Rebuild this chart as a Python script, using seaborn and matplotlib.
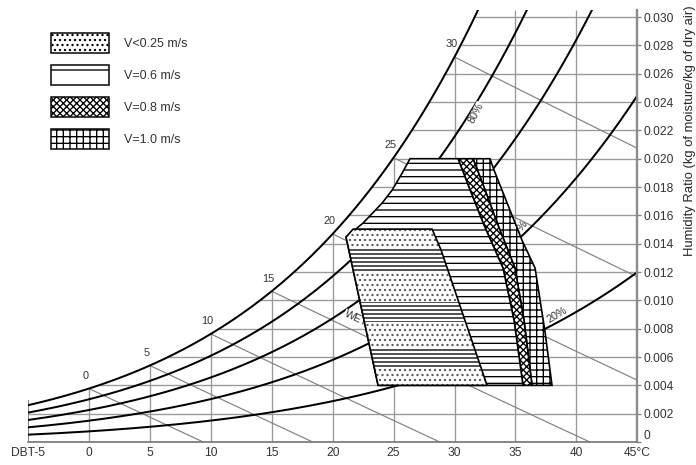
import numpy as np
import pandas as pd
import seaborn as sns
import matplotlib
matplotlib.use("Agg")
from matplotlib import pyplot as plt
from matplotlib.patches import Polygon, Patch

# axes of the chart
dbt_ticks = [-5, 0, 5, 10, 15, 20, 25, 30, 35, 40, 45]
dbt_labels = ["DBT-5", "0", "5", "10", "15", "20", "25", "30", "35", "40", "45°C"]
w_ticks = [0, 0.002, 0.004, 0.006, 0.008, 0.010, 0.012, 0.014, 0.016,
           0.018, 0.020, 0.022, 0.024, 0.026, 0.028, 0.030]
w_labels = ["0", "0.002", "0.004", "0.006", "0.008", "0.010", "0.012", "0.014", "0.016",
            "0.018", "0.020", "0.022", "0.024", "0.026", "0.028", "0.030"]
rh_levels = [100, 80, 60, 40, 20]
wb_temps = [0, 5, 10, 15, 20, 25, 30]

# comfort zones (dry bulb degC, humidity ratio)
still_t = [23.73, 21.10, 21.68, 28.16, 28.90, 32.67]
still_w = [0.004, 0.01447, 0.01503, 0.01503, 0.01355, 0.004]
still_band_lo = [0.0121, 0.0085, 0.0053]
still_band_hi = [0.0136, 0.0099, 0.0067]

v06_left_t = [23.73, 21.10, 22.50, 24.06, 24.88, 25.70, 26.35]
v06_left_w = [0.004, 0.01447, 0.01546, 0.01687, 0.01778, 0.01898, 0.020]
v06_right_t = [30.29, 31.28, 32.42, 33.98, 34.88, 35.62]
v06_right_w = [0.020, 0.01778, 0.01531, 0.01228, 0.00861, 0.004]
v08_right_t = [31.52, 32.51, 33.57, 34.96, 35.70, 36.36]
v08_right_w = [0.020, 0.01778, 0.01531, 0.01228, 0.00861, 0.004]
v10_right_t = [32.91, 33.24, 35.53, 36.61, 37.43, 38.00]
v10_right_w = [0.020, 0.0192, 0.01426, 0.01228, 0.00776, 0.004]

legend_labels = ["V<0.25 m/s", "V=0.6 m/s", "V=0.8 m/s", "V=1.0 m/s"]

P_ATM = 101.325
W_TOP = 0.0305


def p_sat(t):
    return 0.61078 * np.exp(17.27 * t / (t + 237.3))


def w_at(t, rh):
    pw = rh / 100 * p_sat(t)
    return 0.622 * pw / (P_ATM - pw)


def t_sat(w):
    pw = w * P_ATM / (0.622 + w)
    a = np.log(pw / 0.61078)
    return 237.3 * a / (17.27 - a)


def w_wetbulb(t, twb):
    ws = w_at(twb, 100)
    return ((2501 - 2.326 * twb) * ws - 1.006 * (t - twb)) / (2501 + 1.86 * t - 4.186 * twb)


sns.set_theme(style="white")
plt.rcParams["font.family"] = ["Liberation Sans", "DejaVu Sans"]
plt.rcParams["hatch.linewidth"] = 0.8

fig = plt.figure(figsize=(5.8, 3.875), dpi=120)
ax = fig.add_axes([28 / 696, 23 / 465, 609.3 / 696, 432 / 465])
ax.set_xlim(-5, 45)
ax.set_ylim(0, W_TOP)

grid_c = "0.6"
# vertical dry bulb lines up to the saturation curve
for t in dbt_ticks[1:-1]:
    ax.vlines(t, 0, min(w_at(t, 100), W_TOP), color=grid_c, lw=0.8, zorder=1)
ax.vlines(-5, 0, w_at(-5, 100) + 0.0004, color="0.4", lw=1.0, zorder=1)
# horizontal humidity ratio lines from saturation to the right axis
for w in w_ticks[1:]:
    ax.hlines(w, max(t_sat(w), -5), 45, color=grid_c, lw=0.8, zorder=1)

# wet bulb lines
wb_rows = []
for twb in wb_temps:
    t_end = min(twb + (2501 - 2.326 * twb) * w_at(twb, 100) / 1.006, 45)
    for t in np.linspace(twb, t_end, 30):
        wb_rows.append({"twb": twb, "dbt": t, "w": w_wetbulb(t, twb)})
wb_lines = pd.DataFrame(wb_rows)
sns.lineplot(data=wb_lines, x="dbt", y="w", units="twb", estimator=None, sort=False,
             color="0.5", lw=0.7, ax=ax, legend=False, zorder=1)

# relative humidity curves
t_grid = np.linspace(-5, 45, 251)
rh_rows = [{"rh": rh, "dbt": t, "w": w_at(t, rh)} for rh in rh_levels for t in t_grid]
rh_curves = pd.DataFrame(rh_rows)
sns.lineplot(data=rh_curves, x="dbt", y="w", units="rh", estimator=None, sort=False,
             color="black", lw=1.2, ax=ax, legend=False, zorder=2)

# labels on the chart
for twb in wb_temps:
    ax.annotate(str(twb), (twb, w_at(twb, 100)), xytext=(-2, 7.5), textcoords="offset points",
                ha="center", va="center", fontsize=6.5, color="0.2", zorder=2)
ax.text(21.9, 0.0087, "WET", rotation=-25, fontsize=6.5, ha="center", va="center", color="0.2",
        zorder=2.5, bbox=dict(facecolor="white", edgecolor="none", pad=0.3))
ax.text(31.8, 0.0232, "80%", rotation=62, fontsize=6.5, ha="center", va="center", color="0.2",
        zorder=2.5, bbox=dict(facecolor="white", edgecolor="none", pad=0.3))
ax.text(38.4, 0.0090, "20%", rotation=31, fontsize=6.5, ha="center", va="center", color="0.2",
        zorder=2.5, bbox=dict(facecolor="white", edgecolor="none", pad=0.3))
ax.text(35.3, 0.0150, "40%", rotation=50, fontsize=6.5, ha="center", va="center", color="0.2",
        zorder=2.5)

# comfort zones
v10_poly = list(zip(v08_right_t, v08_right_w)) + list(zip(v10_right_t, v10_right_w))[::-1]
v08_poly = list(zip(v06_right_t, v06_right_w)) + list(zip(v08_right_t, v08_right_w))[::-1]
v06_poly = list(zip(v06_left_t, v06_left_w)) + list(zip(v06_right_t, v06_right_w))
still_poly = list(zip(still_t, still_w))

ax.add_patch(Polygon(v10_poly, closed=True, facecolor="white", edgecolor="black",
                     hatch="+++", lw=1.0, zorder=3))
ax.add_patch(Polygon(v08_poly, closed=True, facecolor="white", edgecolor="black",
                     hatch="xxxxxx", lw=1.0, zorder=3))
ax.add_patch(Polygon(v06_poly, closed=True, facecolor="white", edgecolor="black",
                     hatch="---", lw=1.0, zorder=3))
still_patch = Polygon(still_poly, closed=True, facecolor="white", edgecolor="0.35",
                      hatch="....", lw=0, zorder=4)
ax.add_patch(still_patch)
for lo, hi in zip(still_band_lo, still_band_hi):
    band = ax.fill_between([20, 34], lo, hi, facecolor="white", edgecolor="black",
                           hatch="-----", lw=0, zorder=4.5)
    band.set_clip_path(still_patch)
ax.add_patch(Polygon(still_poly, closed=True, fill=False, edgecolor="black", lw=1.0, zorder=5))

# axes styling
ax.yaxis.tick_right()
ax.set_yticks(w_ticks, w_labels)
ax.set_xticks(dbt_ticks, dbt_labels)
ax.tick_params(axis="x", length=0, pad=3, labelsize=7.2, labelcolor="0.2")
ax.tick_params(axis="y", right=True, left=False, length=2.5, width=0.8, color="0.5",
               direction="out", pad=1.5, labelsize=7.2, labelcolor="0.2")
ax.get_yticklabels()[0].set_verticalalignment("bottom")
ax.set_xlabel("")
ax.set_ylabel("")
for side in ["top", "left"]:
    ax.spines[side].set_visible(False)
ax.spines["bottom"].set_color("0.45")
ax.spines["bottom"].set_linewidth(1.0)
ax.spines["right"].set_color("0.55")
ax.spines["right"].set_linewidth(1.4)

fig.text(690 / 696, 1 - 256 / 465, "Humidity Ratio (kg of moisture/kg of dry air)",
         rotation=90, ha="center", va="bottom", fontsize=7.8, color="0.15")

handles = [
    Patch(facecolor="white", edgecolor="black", hatch="....", lw=0.9),
    Patch(facecolor="white", edgecolor="black", hatch="-", lw=0.9),
    Patch(facecolor="white", edgecolor="black", hatch="xxxxxx", lw=0.9),
    Patch(facecolor="white", edgecolor="black", hatch="+++", lw=0.9),
]
fs = 7.5
fs_px = fs * 120 / 72
fig.legend(handles, legend_labels, loc="upper left", bbox_to_anchor=(51 / 696, 1 - 33 / 465),
           bbox_transform=fig.transFigure, frameon=False, fontsize=fs, borderpad=0,
           borderaxespad=0, handlelength=58 / fs_px, handleheight=26 / fs_px,
           labelspacing=12 / fs_px, handletextpad=15 / fs_px, labelcolor="0.2")

fig.savefig("out.png", dpi=120)
